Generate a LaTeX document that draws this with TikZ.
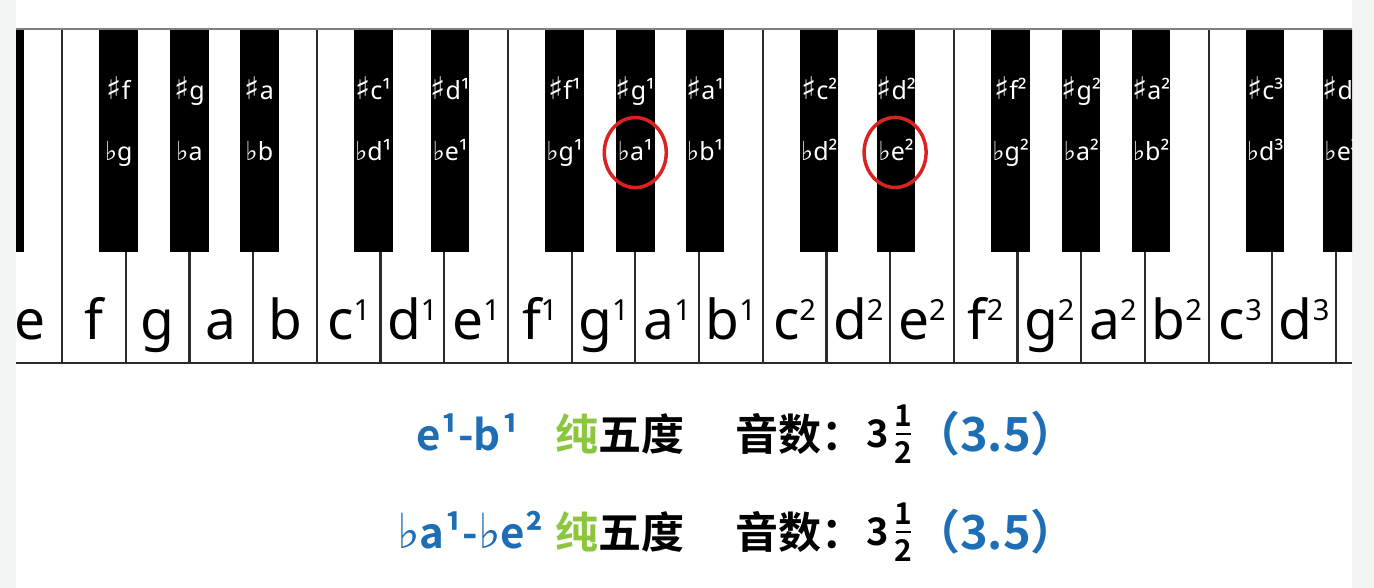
\documentclass[tikz,border=0pt]{standalone}
\usepackage{fontspec}
\setmainfont{Noto Sans}
\newfontfamily\cjk{Noto Sans CJK SC}[BoldFont={Noto Sans CJK SC Bold}]
\newfontfamily\symb{DejaVu Sans}
\definecolor{keygray}{HTML}{2B2B2B}
\definecolor{edgegray}{HTML}{F3F4F4}
\definecolor{ringred}{HTML}{D92323}
\definecolor{ivlblue}{HTML}{1E6EB6}
\definecolor{pure}{HTML}{8CC63F}
\newcommand{\shp}{{\symb\scalebox{1.25}{♯}}}
\newcommand{\flt}{{\symb\scalebox{1.05}{♭}}}
\newcommand{\octmark}[1]{\raisebox{19pt}{\fontsize{29}{29}\selectfont#1}}

\begin{document}
\begin{tikzpicture}[x=1pt, y=-1pt,
  keyline/.style={draw=keygray, line width=2.2pt},
  blackkey/.style={fill=black},
  wlabel/.style={anchor=base, inner sep=0pt, font=\fontsize{55}{60}\selectfont},
  blabel/.style={anchor=base, inner sep=0pt, text=white, font=\fontsize{25}{28}\selectfont},
  ring/.style={draw=ringred, line width=3.5pt},
  ivl/.style={anchor=base west, inner sep=0pt, text=ivlblue, font=\cjk\bfseries\fontsize{42}{46}\selectfont},
  cnt/.style={anchor=base west, inner sep=0pt, font=\cjk\bfseries\fontsize{43}{46}\selectfont},
  frac/.style={anchor=base, inner sep=0pt, font=\cjk\bfseries\fontsize{30}{32}\selectfont},
  fracbar/.style={line width=1.2pt}]
\useasboundingbox (0,0) rectangle (1374,588);
\fill[edgegray] (0,0) rectangle (16,588);
\fill[edgegray] (1352,0) rectangle (1374,588);

% keyboard
\begin{scope}
\clip (16,0) rectangle (1352,588);
\fill[white] (16,29) rectangle (1352,363);
\foreach \k in {0,...,20}
  \draw[keyline] ({62+63.7*\k},29) -- ({62+63.7*\k},363);
\draw[keyline, line width=2.6pt] (16,363) -- (1352,363);
\foreach \nm/\o [count=\i from 0] in {e/{},f/{},g/{},a/{},b/{},c/1,d/1,e/1,f/1,g/1,a/1,b/1,
    c/2,d/2,e/2,f/2,g/2,a/2,b/2,c/3,d/3}
  \node[wlabel] (w\i) at ({30.15+63.7*\i},339) {\nm\octmark{\o}};
\fill[blackkey] (-15,29) rectangle (23.6,252);
\foreach \cx/\sh/\fl [count=\j] in {118.7/f/g, 189.4/g/a, 259.3/a/b, 373.3/c¹/d¹, 450.2/d¹/e¹,
    564.6/f¹/g¹, 635.3/g¹/a¹, 705.2/a¹/b¹, 819.2/c²/d², 896.1/d²/e²,
    1010.5/f²/g², 1081.2/g²/a², 1151.1/a²/b², 1265.1/c³/d³, 1342/d³/e³}{
  \fill[blackkey] ({\cx-19.25},29) rectangle ({\cx+19.25},252);
  \node[blabel] (sh\j) at (\cx,100) {\shp\sh};
  \node[blabel] (fl\j) at (\cx,161) {\flt\fl};
}
\draw[gray, line width=1.5pt] (16,29) -- (1352,29);
\end{scope}

% the two circled flats
\draw[ring] (fl7.center) ++(0,2) ellipse [x radius=31, y radius=35];
\draw[ring] (fl10.center) ++(-1,2) ellipse [x radius=31, y radius=35];

% first interval
\node[ivl] (ivl1) at (416,450) {e¹-b¹};
\node[cnt] (qual1) at (555,450) {\textcolor{pure}{纯}五度};
\node[cnt] (cnt1) at (735,450) {音数：};
\node[cnt, font=\cjk\bfseries\fontsize{38}{40}\selectfont] (three1) at (866,447) {3};
\node[frac] (num1) at (903,426) {1};
\node[frac] (den1) at (903,463) {2};
\draw[fracbar] (896,434) -- (911,434);
\node[ivl, font=\cjk\bfseries\fontsize{47}{50}\selectfont] (dec1) at (913,451) {（3.5）};

% second interval
\node[ivl] (ivl2) at (397,548) {{\symb\mdseries\scalebox{1.15}{♭}}a¹-{\symb\mdseries\scalebox{1.15}{♭}}e²};
\node[cnt] (qual2) at (555,548) {\textcolor{pure}{纯}五度};
\node[cnt] (cnt2) at (735,548) {音数：};
\node[cnt, font=\cjk\bfseries\fontsize{38}{40}\selectfont] (three2) at (866,545) {3};
\node[frac] (num2) at (903,524) {1};
\node[frac] (den2) at (903,561) {2};
\draw[fracbar] (896,532) -- (911,532);
\node[ivl, font=\cjk\bfseries\fontsize{47}{50}\selectfont] (dec2) at (913,549) {（3.5）};
\end{tikzpicture}
\end{document}
